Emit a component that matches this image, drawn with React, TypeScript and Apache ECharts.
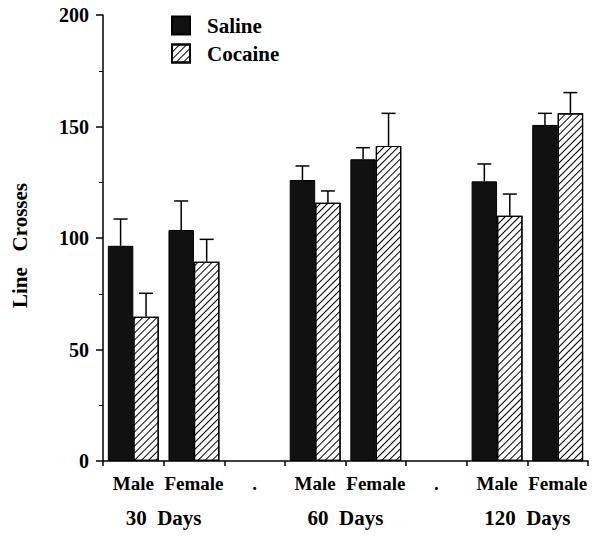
import React, { useEffect, useRef } from "react";
import * as echarts from "echarts";

const categories = ["Male", "Female", ".", "Male", "Female", ".", "Male", "Female"];
const groupLabels = ["", "30  Days", "", "", "60  Days", "", "", "120  Days", ""];
const salineMeans: (number | null)[] = [96.5, 103.6, null, 126.0, 135.3, null, 125.4, 150.7];
const salineSem: (number | null)[] = [12.0, 13.0, null, 6.3, 5.2, null, 7.8, 5.2];
const cocaineMeans: (number | null)[] = [64.7, 89.4, null, 115.8, 141.3, null, 110.0, 155.9];
const cocaineSem: (number | null)[] = [10.5, 10.0, null, 5.3, 14.6, null, 9.7, 9.3];
const yTicks = [0, 50, 100, 150, 200];

const FONT = "'Liberation Serif', 'Times New Roman', serif";
const CAT_GAP = 0.16;

function errData(means: (number | null)[], sem: (number | null)[]) {
  const out: any[] = [];
  means.forEach((m, i) => {
    const s = sem[i];
    if (m != null && s != null) out.push([i, m, m + s]);
  });
  return out;
}

function makeErrRender(side: number) {
  return (params: any, api: any) => {
    const i = api.value(0);
    const lo = api.coord([i, api.value(1)]);
    const hi = api.coord([i, api.value(2)]);
    const band = api.size([1, 0])[0];
    const barW = (band * (1 - CAT_GAP)) / 2;
    const x = lo[0] + side * (barW / 2);
    const cap = 7;
    const style = { stroke: "#000", lineWidth: 1.5 };
    return {
      type: "group",
      children: [
        { type: "line", shape: { x1: x, y1: lo[1], x2: x, y2: hi[1] }, style },
        { type: "line", shape: { x1: x - cap, y1: hi[1], x2: x + cap, y2: hi[1] }, style },
      ],
    };
  };
}

export default function App() {
  const ref = useRef<HTMLDivElement>(null);
  useEffect(() => {
    if (!ref.current) return;
    const chart = echarts.init(ref.current, null, { renderer: "svg" });
    const toData = (a: (number | null)[]) => a.map((v) => (v == null ? "-" : v));
    chart.setOption({
      animation: false,
      backgroundColor: "#fff",
      grid: { left: 103, right: 12, top: 15, bottom: 77 },
      legend: {
        orient: "vertical",
        left: 166,
        top: 10,
        icon: "rect",
        itemWidth: 18,
        itemHeight: 18,
        itemGap: 7,
        textStyle: { fontFamily: FONT, fontWeight: "bold", fontSize: 21, color: "#000", padding: [0, 0, 0, 12] },
        data: ["Saline", "Cocaine"],
      },
      xAxis: [
        {
          type: "category",
          data: categories,
          axisLine: { lineStyle: { color: "#000", width: 1.5 } },
          axisTick: { show: true, length: 5, lineStyle: { color: "#000", width: 1.5 } },
          axisLabel: { color: "#000", fontFamily: FONT, fontWeight: "bold", fontSize: 19, margin: 13, interval: 0 },
        },
        {
          type: "category",
          data: groupLabels,
          boundaryGap: false,
          position: "bottom",
          axisLine: { show: false },
          axisTick: { show: false },
          axisLabel: { color: "#000", fontFamily: FONT, fontWeight: "bold", fontSize: 21, margin: 46, interval: 0 },
        },
      ],
      yAxis: {
        type: "value",
        min: yTicks[0],
        max: yTicks[yTicks.length - 1],
        interval: 50,
        name: "Line   Crosses",
        nameLocation: "middle",
        nameGap: 73,
        nameTextStyle: { color: "#000", fontFamily: FONT, fontWeight: "bold", fontSize: 21, padding: [0, 15, 0, 0] },
        axisLine: { show: true, lineStyle: { color: "#000", width: 1.5 } },
        axisTick: { show: true, length: 7, lineStyle: { color: "#000", width: 1.5 } },
        minorTick: { show: true, splitNumber: 2, length: 4, lineStyle: { color: "#000", width: 1 } },
        splitLine: { show: false },
        axisLabel: { color: "#000", fontFamily: FONT, fontWeight: "bold", fontSize: 20, margin: 14 },
      },
      series: [
        {
          name: "Saline",
          type: "bar",
          data: toData(salineMeans),
          barGap: "0%",
          barCategoryGap: CAT_GAP * 100 + "%",
          itemStyle: { color: "#111", borderColor: "#000", borderWidth: 1 },
        },
        {
          name: "Cocaine",
          type: "bar",
          data: toData(cocaineMeans),
          barGap: "0%",
          barCategoryGap: CAT_GAP * 100 + "%",
          itemStyle: {
            color: "#fff",
            borderColor: "#000",
            borderWidth: 1.2,
            decal: {
              symbol: "rect",
              symbolSize: 1,
              color: "#000",
              backgroundColor: "#fff",
              dashArrayX: [1, 0],
              dashArrayY: [1, 4],
              rotation: -Math.PI / 4,
            },
          },
        },
        {
          type: "custom",
          renderItem: makeErrRender(-1),
          data: errData(salineMeans, salineSem),
          z: 5,
          silent: true,
        },
        {
          type: "custom",
          renderItem: makeErrRender(1),
          data: errData(cocaineMeans, cocaineSem),
          z: 5,
          silent: true,
        },
      ],
    });
    return () => chart.dispose();
  }, []);
  return (
    <div
      ref={ref}
      style={{ position: "absolute", left: 0, top: 0, width: 600, height: 538 }}
    />
  );
}
